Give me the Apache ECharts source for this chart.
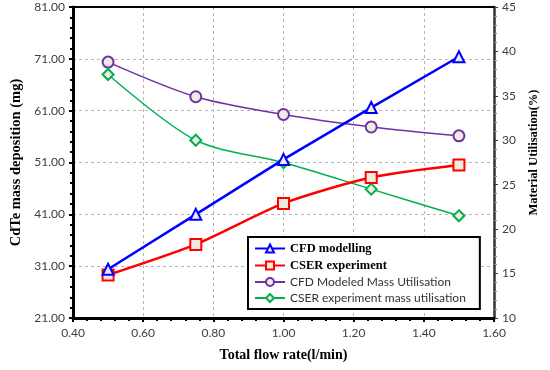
<!DOCTYPE html>
<html>
<head>
<meta charset="utf-8">
<script src="https://cdn.jsdelivr.net/npm/echarts@6/dist/echarts.min.js"></script>
<style>
  html, body { margin: 0; padding: 0; background: #fff; }
  #chart { width: 550px; height: 370px; }
</style>
</head>
<body>
<div id="chart"></div>
<script>
// flow rate (l/min)
var flowRate = [0.5, 0.75, 1.0, 1.25, 1.5];
// mass deposition (mg) - left axis
var cfdModelling = [30.4, 41.0, 51.6, 61.6, 71.4];
var cserExperiment = [29.3, 35.2, 43.1, 48.1, 50.5];
// material utilisation (%) - right axis
var cfdUtilisation = [38.8, 34.9, 32.9, 31.5, 30.5];
var cserUtilisation = [37.4, 30.0, 27.5, 24.5, 21.5];

function pairs(ys) {
  var out = [];
  for (var i = 0; i < flowRate.length; i++) {
    out.push([flowRate[i], ys[i]]);
  }
  return out;
}

var serif = "'Liberation Serif', 'DejaVu Serif', serif";
var sans = "Lato, 'Noto Sans', sans-serif";
var markerFill = "#eeece1";
var gridDash = { color: "#b5b5b5", type: [3, 3], width: 1 };

var chart = echarts.init(document.getElementById("chart"));
var option = {
  backgroundColor: "#fff",
  animation: false,
  grid: { left: 73, right: 56, top: 7, bottom: 52 },
  legend: {
    orient: "vertical",
    left: 248,
    top: 237,
    itemGap: 4,
    itemWidth: 30,
    itemHeight: 10,
    padding: [5, 14, 5, 6],
    borderColor: "#000",
    borderWidth: 2,
    backgroundColor: "#fff",
    data: [
      { name: "CFD modelling", textStyle: { fontFamily: serif, fontWeight: "bold", fontSize: 12.5, color: "#000" } },
      { name: "CSER experiment", textStyle: { fontFamily: serif, fontWeight: "bold", fontSize: 12.5, color: "#000" } },
      { name: "CFD Modeled Mass Utilisation", textStyle: { fontFamily: sans, fontSize: 12, color: "#333" } },
      { name: "CSER experiment mass utilisation", textStyle: { fontFamily: sans, fontSize: 12, color: "#333" } }
    ]
  },
  xAxis: [
    {
      type: "value",
      min: 0.4,
      max: 1.6,
      interval: 0.2,
      name: "Total flow rate(l/min)",
      nameLocation: "middle",
      nameGap: 30,
      nameTextStyle: { fontFamily: serif, fontWeight: "bold", fontSize: 14, color: "#000" },
      axisLine: { onZero: false, lineStyle: { color: "#000", width: 3 } },
      axisTick: { inside: false, length: 4, lineStyle: { color: "#000", width: 2 } },
      minorTick: { show: true, splitNumber: 5, length: 3, lineStyle: { color: "#000", width: 2 } },
      axisLabel: {
        fontFamily: sans, fontSize: 12, color: "#404040", margin: 9,
        formatter: function (v) { return v.toFixed(2); }
      },
      splitLine: { show: true, lineStyle: gridDash }
    },
    {
      // top frame line
      type: "value",
      position: "top",
      min: 0.4,
      max: 1.6,
      axisLine: { show: true, onZero: false, lineStyle: { color: "#000", width: 2 } },
      axisTick: { show: false },
      axisLabel: { show: false },
      splitLine: { show: false }
    }
  ],
  yAxis: [
    {
      type: "value",
      min: 21,
      max: 81,
      interval: 10,
      name: "CdTe mass deposition (mg)",
      nameLocation: "middle",
      nameRotate: 90,
      nameGap: 47,
      nameTextStyle: { fontFamily: serif, fontWeight: "bold", fontSize: 14.5, color: "#000" },
      axisLine: { show: true, lineStyle: { color: "#000", width: 3 } },
      axisTick: { show: true, length: 4, lineStyle: { color: "#000", width: 2 } },
      minorTick: { show: true, splitNumber: 5, length: 3, lineStyle: { color: "#000", width: 2 } },
      axisLabel: {
        fontFamily: sans, fontSize: 12, color: "#404040", margin: 8,
        formatter: function (v) { return v.toFixed(2); }
      },
      splitLine: { show: true, lineStyle: gridDash }
    },
    {
      type: "value",
      min: 10,
      max: 45,
      interval: 5,
      position: "right",
      name: "Material Utilisation(%)",
      nameLocation: "middle",
      nameRotate: 90,
      nameGap: 32,
      nameTextStyle: { fontFamily: serif, fontWeight: "bold", fontSize: 12.5, color: "#000", padding: [0, 0, 0, 20] },
      axisLine: { show: true, lineStyle: { color: "#333", width: 2.5 } },
      axisTick: { show: true, length: 4, lineStyle: { color: "#333", width: 1 } },
      minorTick: { show: true, splitNumber: 5, length: 3, lineStyle: { color: "#888", width: 1 } },
      axisLabel: { fontFamily: sans, fontSize: 12, color: "#404040", margin: 8 },
      splitLine: { show: false }
    }
  ],
  series: [
    {
      name: "CFD modelling",
      type: "line",
      yAxisIndex: 0,
      data: pairs(cfdModelling),
      symbol: "triangle",
      symbolSize: 11,
      lineStyle: { color: "#0000ff", width: 2.5 },
      itemStyle: { color: markerFill, borderColor: "#0000ff", borderWidth: 2 },
      z: 5
    },
    {
      name: "CSER experiment",
      type: "line",
      yAxisIndex: 0,
      smooth: 0.25,
      data: pairs(cserExperiment),
      symbol: "rect",
      symbolSize: 11,
      lineStyle: { color: "#ff0000", width: 2.5 },
      itemStyle: { color: markerFill, borderColor: "#ff0000", borderWidth: 2 },
      z: 4
    },
    {
      name: "CFD Modeled Mass Utilisation",
      type: "line",
      yAxisIndex: 1,
      smooth: 0.3,
      data: pairs(cfdUtilisation),
      symbol: "circle",
      symbolSize: 11,
      lineStyle: { color: "#7030a0", width: 1.5 },
      itemStyle: { color: markerFill, borderColor: "#7030a0", borderWidth: 2 },
      z: 3
    },
    {
      name: "CSER experiment mass utilisation",
      type: "line",
      yAxisIndex: 1,
      smooth: 0.3,
      data: pairs(cserUtilisation),
      symbol: "diamond",
      symbolSize: 11,
      lineStyle: { color: "#00b050", width: 1.5 },
      itemStyle: { color: markerFill, borderColor: "#00b050", borderWidth: 2 },
      z: 3
    }
  ]
};
chart.setOption(option);
</script>
</body>
</html>
